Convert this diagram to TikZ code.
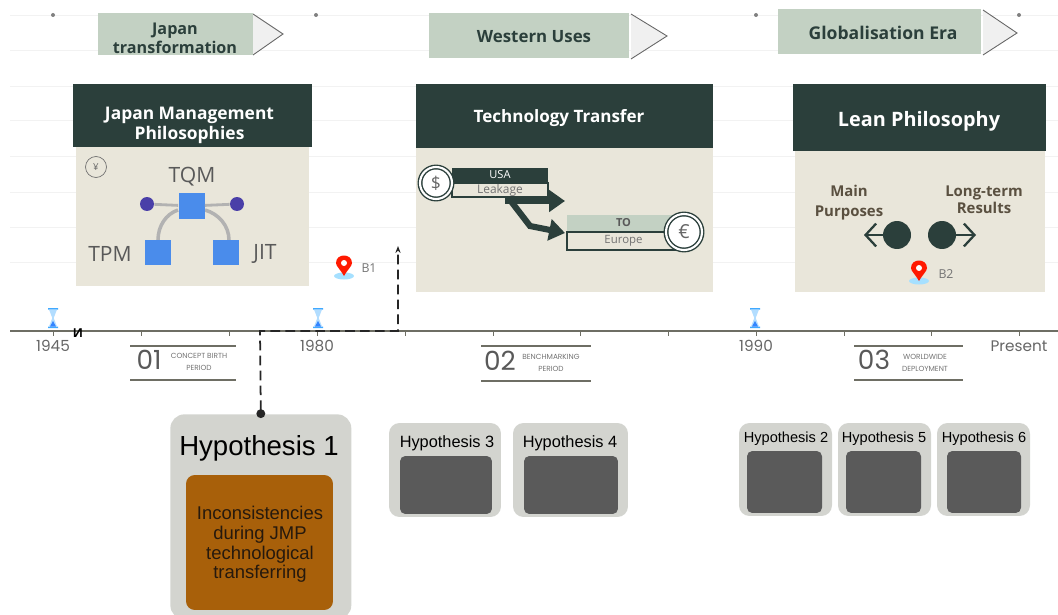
\documentclass[tikz,border=0pt]{standalone}
\usepackage{fontspec}
\setmainfont{Open Sans}
\newfontfamily\arialfont{Liberation Sans}
\newfontfamily\timefont{Poppins}
\usetikzlibrary{arrows.meta}
\definecolor{darkgreen}{HTML}{2B3F3B}
\definecolor{palegreen}{HTML}{C3D1C3}
\definecolor{paper}{HTML}{E9E6DA}
\definecolor{boxgray}{HTML}{D3D4CF}
\definecolor{innergray}{HTML}{5A5A5A}
\definecolor{brownbox}{HTML}{A8600A}
\definecolor{linegray}{HTML}{6E6E64}
\definecolor{squareblue}{HTML}{4A8CEB}
\definecolor{dotpurple}{HTML}{4A3FA8}
\definecolor{brownish}{HTML}{5A5040}
\tikzset{
  tagbox/.style={fill=palegreen,inner sep=0pt},
  tagtext/.style={text=darkgreen,align=center,inner sep=0pt,font=\bfseries\fontsize{9.6}{10.8}\selectfont},
  tagtip/.style={fill=black!6},
  tagline/.style={draw=black!60,line width=0.5pt},
  headbox/.style={fill=darkgreen,inner sep=0pt},
  headtext/.style={text=white,align=center,inner sep=0pt,font=\bfseries\fontsize{9.9}{11}\selectfont},
  bodybox/.style={fill=paper,inner sep=0pt},
  square/.style={fill=squareblue,inner sep=0pt,minimum size=0.52cm},
  linklabel/.style={text=black!65,font=\fontsize{12}{14}\selectfont},
  smalltext/.style={text=brownish,align=center,font=\bfseries\fontsize{8.5}{11.4}\selectfont},
  pinlabel/.style={text=black!55,font=\fontsize{7}{8}\selectfont},
  year/.style={text=black!60,font=\timefont\fontsize{8.7}{10}\selectfont},
  period/.style={text=black!65,font=\timefont\fontsize{15}{17}\selectfont},
  perioddesc/.style={text=black!55,align=center,inner sep=0pt,font=\timefont\fontsize{4.2}{6.4}\selectfont},
  rule/.style={draw=linegray,line width=0.7pt},
  hypbox/.style={fill=boxgray,rounded corners=6pt,inner sep=0pt},
  hypinner/.style={fill=innergray,rounded corners=3pt,inner sep=0pt},
  hyplabel/.style={font=\arialfont\fontsize{9.3}{11}\selectfont},
  money/.style={circle,draw=darkgreen,double=white,double distance=1.2pt,line width=0.8pt,fill=white,text=black!60,inner sep=0pt},
  fatarrow/.style={draw=darkgreen,line width=3.5pt,-{Triangle[length=9pt,width=12pt]}},
  sandglass/.pic={
    \fill[blue!45!cyan!75] (-5,-10) rectangle (5,-8.5) (-5,8.5) rectangle (5,10);
    \fill[blue!45!cyan!30] (-4,-8.5) -- (4,-8.5) -- (0.7,0) -- (4,8.5) -- (-4,8.5) -- (-0.7,0) -- cycle;
    \fill[blue!60!cyan!80] (-3,8.5) -- (3,8.5) -- (0,3) -- cycle;
  },
  mappin/.pic={
    \fill[blue!35!cyan!35] (0,9) ellipse (10 and 3.5);
    \fill[red!80!orange] (0,9) .. controls (-4,2) and (-8,-1) .. (-8,-4) .. controls (-8,-14) and (8,-14) .. (8,-4) .. controls (8,-1) and (4,2) .. (0,9);
    \fill[white] (0,-4) circle (3);
  },
}
\begin{document}
\begin{tikzpicture}[x=0.02cm,y=-0.02cm]
  \useasboundingbox (0,0) rectangle (1058,615);
  \draw[black!5] (10,15) -- (1058,15) (10,50) -- (1058,50) (10,86) -- (1058,86) (10,120) -- (1058,120)
    (10,156) -- (1058,156) (10,192) -- (1058,192) (10,227) -- (1058,227) (10,262) -- (1058,262);
  \fill[black!50] (53,15) circle (2) (316,15) circle (2) (756,15) circle (2) (1019,15) circle (2);

  \fill[tagtip] (253,14) -- (283,34) -- (253,55) -- cycle;
  \draw[tagline] (253,14) -- (283,34) -- (253,55);
  \fill[tagtip] (631,14) -- (667,36) -- (631,59) -- cycle;
  \draw[tagline] (631,14) -- (667,36) -- (631,59);
  \fill[tagtip] (983,10) -- (1017,33) -- (983,55) -- cycle;
  \draw[tagline] (983,10) -- (1017,33) -- (983,55);
  \node[tagbox,minimum width=3.1cm,minimum height=0.84cm] (tagjapan) at (175.5,34) {};
  \node[tagtext,font=\bfseries\fontsize{9.2}{10.8}\selectfont] (tagjapantext) at (175,38.5) {Japan\\transformation};
  \node[tagbox,minimum width=4cm,minimum height=0.9cm] (tagwestern) at (529,35.5) {};
  \node[tagtext] (tagwesterntext) at (534,36.5) {Western Uses};
  \node[tagbox,minimum width=4.06cm,minimum height=0.9cm] (tagglobal) at (879.5,31.5) {};
  \node[tagtext,font=\bfseries\fontsize{10}{12}\selectfont] (tagglobaltext) at (883,32.5) {Globalisation Era};

  \node[bodybox,minimum width=4.66cm,minimum height=2.78cm] (bodyjapan) at (192.5,216.5) {};
  \node[headbox,minimum width=4.78cm,minimum height=1.26cm] (headjapan) at (192.5,115.5) {};
  \node[headtext] (headjapantext) at (189.5,125.5) {Japan Management\\Philosophies};
  \node[bodybox,minimum width=5.94cm,minimum height=2.88cm] (bodytransfer) at (564.5,220) {};
  \node[headbox,minimum width=5.94cm,minimum height=1.28cm] (headtransfer) at (564.5,116) {};
  \node[headtext,font=\bfseries\fontsize{9.7}{11}\selectfont] (headtransfertext) at (559,118) {Technology Transfer};
  \node[bodybox,minimum width=5cm,minimum height=2.82cm] (bodylean) at (920,221.5) {};
  \node[headbox,minimum width=5.06cm,minimum height=1.34cm] (headlean) at (919.5,117.5) {};
  \node[headtext,font=\bfseries\fontsize{11.3}{13}\selectfont] (headleantext) at (919,121) {Lean Philosophy};

  \node[circle,draw=black!55,fill=paper,inner sep=0pt,minimum size=0.42cm,text=black!60,font=\fontsize{5.5}{6}\selectfont] (yen) at (96,167) {¥};
  \node[linklabel] (tqmlabel) at (192,177) {TQM};
  \node[linklabel] (tpmlabel) at (110,254) {TPM};
  \node[linklabel] (jitlabel) at (265,254) {JIT};
  \draw[black!30,line width=2pt] (158,240) .. controls (158,226) and (166,214) .. (178,210);
  \draw[black!30,line width=2pt] (229,240) .. controls (229,226) and (219,214) .. (205,210);
  \node[square] (tqm) at (191.5,206) {};
  \node[square] (tpm) at (158,252.5) {};
  \node[square] (jit) at (226,252.5) {};
  \node[circle,fill=dotpurple,inner sep=0pt,minimum size=0.28cm] (dotleft) at (147,204) {};
  \node[circle,fill=dotpurple,inner sep=0pt,minimum size=0.28cm] (dotright) at (237,204) {};
  \draw[black!30,line width=1.6pt] (dotleft) -- (tqm);
  \draw[black!30,line width=1.6pt] (tqm) -- (dotright);

  \coordinate (splitstart) at (505,201);
  \coordinate (splitend) at (565,201);
  \coordinate (lowstart) at (510,200);
  \coordinate (lowbend) at (530,226);
  \coordinate (lowend) at (565,233);
  \draw[fatarrow] (splitstart) -- (splitend);
  \draw[fatarrow] (lowstart) -- (lowbend) -- (lowend);
  \node[fill=darkgreen,text=white,minimum width=1.92cm,minimum height=0.28cm,inner sep=0pt,font=\fontsize{6.3}{7}\selectfont] (usa) at (500,175) {USA};
  \node[draw=darkgreen,line width=0.8pt,fill=paper,text=black!55,minimum width=1.92cm,minimum height=0.28cm,inner sep=0pt,font=\fontsize{6.8}{7}\selectfont] (leakage) at (500,190) {Leakage};
  \node[fill=palegreen,minimum width=2.26cm,minimum height=0.34cm,inner sep=0pt,text=black!65,font=\bfseries\fontsize{6.3}{7}\selectfont] (to) at (623.5,223) {TO};
  \node[draw=darkgreen,line width=0.8pt,fill=paper,text=black!55,minimum width=2.26cm,minimum height=0.36cm,inner sep=0pt,font=\fontsize{6.5}{7}\selectfont] (europe) at (623.5,241) {Europe};
  \node[money,minimum size=0.64cm,font=\fontsize{10}{11}\selectfont] (dollar) at (436,183) {\$};
  \node[money,minimum size=0.72cm,font=\fontsize{11}{12}\selectfont] (euro) at (684,232) {€};

  \node[smalltext] (purposes) at (849,203) {Main\\Purposes};
  \node[smalltext,font=\bfseries\fontsize{8.5}{9.8}\selectfont] (results) at (984,200) {Long-term\\Results};
  \node[circle,fill=darkgreen,inner sep=0pt,minimum size=0.56cm] (leftdot) at (897,235) {};
  \node[circle,fill=darkgreen,inner sep=0pt,minimum size=0.56cm] (rightdot) at (942,235) {};
  \coordinate (leftend) at (864,235);
  \coordinate (rightend) at (976,235);
  \draw[darkgreen,line width=1.3pt,-{Straight Barb[length=6pt,width=13pt]}] (leftdot) -- (leftend);
  \draw[darkgreen,line width=1.3pt,-{Straight Barb[length=6pt,width=13pt]}] (rightdot) -- (rightend);

  \pic at (344,267) {mappin};
  \node[pinlabel] (bone) at (369,268) {B1};
  \pic at (919,272) {mappin};
  \node[pinlabel] (btwo) at (946,274) {B2};

  \pic at (53,318) {sandglass};
  \pic at (318,318) {sandglass};
  \pic at (755,318) {sandglass};
  \coordinate (axisstart) at (10,331);
  \coordinate (axisend) at (1058,331);
  \draw[linegray,line width=1pt] (axisstart) -- (axisend);
  \draw[linegray,line width=0.3pt] (53,331) -- (53,336) (141,331) -- (141,336) (229,331) -- (229,336) (317,331) -- (317,336)
    (405,331) -- (405,336) (493,331) -- (493,336) (580,331) -- (580,336) (668,331) -- (668,336)
    (756,331) -- (756,336) (844,331) -- (844,336) (931,331) -- (931,336) (1019,331) -- (1019,336);
  \node[inner sep=0pt,font=\bfseries\fontsize{7}{8}\selectfont] (mark) at (78,333.5) {И};
  \node[year] (yearone) at (53,346) {1945};
  \node[year] (yeartwo) at (317,346) {1980};
  \node[year] (yearthree) at (756,346) {1990};
  \node[year] (yearfour) at (1019,346) {Present};

  \draw[rule] (130,346) -- (236,346) (130,380) -- (236,380);
  \draw[rule] (481,346) -- (591,346) (481,381) -- (591,381);
  \draw[rule] (854,346) -- (963,346) (854,380) -- (963,380);
  \node[period] (numone) at (149,360) {01};
  \node[perioddesc] (descone) at (199,362) {CONCEPT BIRTH\\PERIOD};
  \node[period] (numtwo) at (500,361) {02};
  \node[perioddesc] (desctwo) at (551,363) {BENCHMARKING\\PERIOD};
  \node[period] (numthree) at (874,360) {03};
  \node[perioddesc] (descthree) at (925,363) {WORLDWIDE\\DEPLOYMENT};

  \node[hypbox,rounded corners=8pt,minimum width=3.62cm,minimum height=4.1cm,anchor=north west] (hypone) at (170,414) {};
  \node[font=\arialfont\fontsize{15.7}{18}\selectfont] (hyponelabel) at (259,448) {Hypothesis 1};
  \node[fill=brownbox,rounded corners=5pt,minimum width=2.94cm,minimum height=2.7cm,inner sep=0pt] (hyponebox) at (259.5,542.5) {};
  \node[text=black!80!brown,align=center,font=\arialfont\fontsize{10.5}{11.2}\selectfont] (hyponetext) at (260,544.5) {Inconsistencies\\during JMP\\technological\\transferring};

  \coordinate (bendlow) at (260,331);
  \coordinate (bendhigh) at (398,331);
  \coordinate (dashend) at (398,246);
  \draw[black!85,line width=1pt,{Circle[length=5pt]}-{Stealth[length=4pt]},dash pattern=on 5.5pt off 3pt,shorten <=-2.3pt] (hypone.north) -- (bendlow) -- (bendhigh) -- (dashend);

  \node[hypbox,minimum width=2.24cm,minimum height=1.88cm] (boxthree) at (445,470) {};
  \node[hypinner,minimum width=1.84cm,minimum height=1.16cm] (innerthree) at (446,485) {};
  \node[hyplabel] (labelthree) at (447,443) {Hypothesis 3};
  \node[hypbox,minimum width=2.3cm,minimum height=1.88cm] (boxfour) at (570.5,470) {};
  \node[hypinner,minimum width=1.88cm,minimum height=1.16cm] (innerfour) at (571,485) {};
  \node[hyplabel] (labelfour) at (570,443) {Hypothesis 4};
  \node[hypbox,minimum width=1.86cm,minimum height=1.86cm] (boxtwo) at (785.5,469.5) {};
  \node[hypinner,minimum width=1.5cm,minimum height=1.24cm] (innertwo) at (784.5,482) {};
  \node[hyplabel,font=\arialfont\fontsize{8.3}{10}\selectfont] (labeltwo) at (786,439) {Hypothesis 2};
  \node[hypbox,minimum width=1.86cm,minimum height=1.86cm] (boxfive) at (884.5,469.5) {};
  \node[hypinner,minimum width=1.5cm,minimum height=1.24cm] (innerfive) at (883.5,482) {};
  \node[hyplabel,font=\arialfont\fontsize{8.3}{10}\selectfont] (labelfive) at (884,439) {Hypothesis 5};
  \node[hypbox,minimum width=1.86cm,minimum height=1.86cm] (boxsix) at (983.5,469.5) {};
  \node[hypinner,minimum width=1.48cm,minimum height=1.24cm] (innersix) at (984,482) {};
  \node[hyplabel,font=\arialfont\fontsize{8.3}{10}\selectfont] (labelsix) at (984,439) {Hypothesis 6};
\end{tikzpicture}
\end{document}
